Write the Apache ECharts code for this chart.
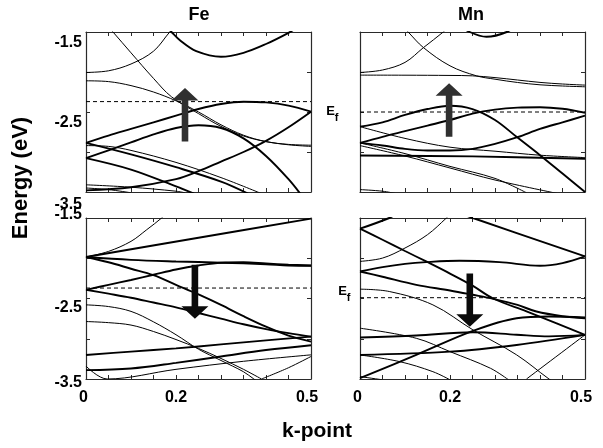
<!DOCTYPE html>
<html><head><meta charset="utf-8">
<script src="https://cdn.jsdelivr.net/npm/echarts@6/dist/echarts.min.js"></script>
<style>html,body{margin:0;padding:0;background:#fff}#c{width:603px;height:448px}</style>
</head><body><div id="c"></div>
<script>
// ---------------- data ----------------
const panelTitles = ['Fe', 'Mn'];
const xTickLabels = [0, 0.2, 0.5];
const yTickLabels = [-1.5, -2.5, -3.5];
const fermiLevels = [-2.37, -2.50, -2.37, -2.49];           // Fe up, Mn up, Fe down, Mn down
const spinArrows = [[0.22, -2.87, -2.20], [0.198, -2.81, -2.14], [0.242, -2.08, -2.75], [0.244, -2.19, -2.85]]; // k, tail E, tip E

const feUpBands = [
  [[0.05,-1.44],[0.06,-1.5],[0.1,-1.76],[0.15,-2.08],[0.19,-2.31],[0.25,-2.52],[0.3,-2.68],[0.35,-2.80],[0.4,-2.87],[0.45,-2.91],[0.5,-2.93]],
  [[0,-2.11],[0.05,-2.12],[0.1,-2.17],[0.15,-2.25],[0.2,-2.36],[0.25,-2.5],[0.3,-2.66],[0.35,-2.79],[0.4,-2.87],[0.45,-2.905],[0.5,-2.915]],
  [[0,-2.006],[0.05,-1.985],[0.1,-1.9],[0.15,-1.74],[0.186,-1.5],[0.2,-1.42]],
  [[0.17,-1.38],[0.19,-1.5],[0.21,-1.61],[0.245,-1.74],[0.3,-1.81],[0.35,-1.76],[0.4,-1.65],[0.45,-1.51],[0.47,-1.44]],
  [[0,-2.886],[0.05,-2.795],[0.1,-2.712],[0.15,-2.629],[0.2,-2.546],[0.25,-2.463],[0.3,-2.40],[0.35,-2.371],[0.4,-2.38],[0.45,-2.42],[0.5,-2.496]],
  [[0,-3.077],[0.05,-2.98],[0.1,-2.88],[0.15,-2.78],[0.2,-2.70],[0.25,-2.665],[0.3,-2.70],[0.35,-2.83],[0.4,-3.05],[0.45,-3.34],[0.48,-3.55]],
  [[0,-2.886],[0.1,-3.03],[0.2,-3.19],[0.3,-3.37],[0.36,-3.52]],
  [[0,-2.92],[0.05,-2.93],[0.1,-2.98],[0.2,-3.13],[0.3,-3.32],[0.39,-3.52]],
  [[0,-3.077],[0.1,-3.22],[0.2,-3.43],[0.24,-3.52]],
  [[0,-3.48],[0.1,-3.44],[0.2,-3.34],[0.25,-3.24],[0.3,-3.12],[0.35,-3.0],[0.4,-2.86],[0.45,-2.69],[0.5,-2.496]],
  [[0,-3.41],[0.1,-3.44],[0.2,-3.49],[0.22,-3.51]],
  [[0,-3.45],[0.05,-3.47],[0.1,-3.51]]
];
const feUpHeavy = [0,0,0,1,1,1,1,0,1,1,0,0];

const mnUpBands = [
  [[0.09,-1.4],[0.107,-1.5],[0.141,-1.695],[0.2,-1.923],[0.259,-2.048],[0.3,-2.09],[0.35,-2.131],[0.4,-2.16],[0.45,-2.175],[0.5,-2.185]],
  [[0,-2.006],[0.05,-1.975],[0.1,-1.88],[0.141,-1.695],[0.185,-1.5],[0.2,-1.42]],
  [[0,-2.039],[0.1,-2.04],[0.2,-2.043],[0.25,-2.048],[0.3,-2.07],[0.35,-2.1],[0.4,-2.13],[0.45,-2.15],[0.5,-2.164]],
  [[0.21,-1.38],[0.244,-1.5],[0.281,-1.56],[0.326,-1.5],[0.35,-1.4]],
  [[0,-2.683],[0.05,-2.629],[0.1,-2.537],[0.15,-2.463],[0.2,-2.421],[0.25,-2.463],[0.3,-2.6],[0.35,-2.82],[0.4,-3.04],[0.45,-3.27],[0.5,-3.5]],
  [[0,-2.886],[0.05,-2.81],[0.1,-2.74],[0.15,-2.67],[0.2,-2.6],[0.25,-2.52],[0.3,-2.47],[0.35,-2.445],[0.4,-2.44],[0.45,-2.46],[0.5,-2.51]],
  [[0,-2.886],[0.05,-2.919],[0.1,-2.961],[0.15,-2.981],[0.2,-2.981],[0.25,-2.961],[0.3,-2.898],[0.35,-2.815],[0.4,-2.712],[0.45,-2.629],[0.5,-2.546]],
  [[0,-2.683],[0.1,-2.83],[0.2,-2.94],[0.3,-2.99],[0.4,-3.04],[0.5,-3.07]],
  [[0,-3.044],[0.25,-3.055],[0.5,-3.085]],
  [[0,-2.886],[0.1,-3.02],[0.2,-3.18],[0.3,-3.33],[0.37,-3.51]],
  [[0,-2.92],[0.1,-3.05],[0.2,-3.2],[0.3,-3.35],[0.44,-3.52]],
  [[0,-3.47],[0.05,-3.49],[0.08,-3.52]]
];
const mnUpHeavy = [0,0,0,1,1,1,1,0,1,0,0,0];

const feDownBands = [
  [[0,-1.985],[0.25,-1.745],[0.5,-1.508]],
  [[0,-1.985],[0.05,-1.915],[0.1,-1.79],[0.135,-1.645],[0.168,-1.5],[0.19,-1.38]],
  [[0,-1.985],[0.1,-2.02],[0.2,-2.04],[0.3,-2.055],[0.4,-2.075],[0.45,-2.09],[0.5,-2.093]],
  [[0,-1.985],[0.05,-2.05],[0.1,-2.13],[0.15,-2.21],[0.2,-2.33],[0.25,-2.45],[0.3,-2.58],[0.35,-2.72],[0.4,-2.85],[0.45,-2.96],[0.5,-3.035]],
  [[0,-2.392],[0.05,-2.33],[0.1,-2.27],[0.15,-2.205],[0.2,-2.14],[0.25,-2.09],[0.3,-2.055],[0.35,-2.05],[0.4,-2.065],[0.45,-2.08],[0.5,-2.09]],
  [[0,-2.392],[0.05,-2.44],[0.1,-2.49],[0.15,-2.55],[0.2,-2.61],[0.25,-2.68],[0.3,-2.75],[0.35,-2.82],[0.4,-2.88],[0.45,-2.93],[0.5,-2.973]],
  [[0,-2.579],[0.05,-2.6],[0.1,-2.66],[0.15,-2.79],[0.2,-2.95],[0.25,-3.13],[0.3,-3.27],[0.35,-3.41],[0.373,-3.5],[0.4,-3.6]],
  [[0,-2.786],[0.05,-2.8],[0.1,-2.83],[0.15,-2.91],[0.2,-3.01],[0.25,-3.12],[0.3,-3.245],[0.35,-3.38],[0.39,-3.5]],
  [[0.39,-3.5],[0.45,-3.36],[0.5,-3.22]],
  [[0,-3.201],[0.1,-3.16],[0.2,-3.12],[0.3,-3.07],[0.4,-3.02],[0.5,-2.973]],
  [[0,-3.39],[0.1,-3.37],[0.2,-3.3],[0.3,-3.22],[0.4,-3.14],[0.5,-3.08]],
  [[0,-3.34],[0.047,-3.5],[0.2,-3.38],[0.35,-3.28],[0.5,-3.2]]
];
const feDownHeavy = [1,0,1,1,1,1,0,0,0,1,1,0];

const mnDownBands = [
  [[0,-1.633],[0.065,-1.5],[0.08,-1.45]],
  [[0,-1.633],[0.05,-1.77],[0.1,-1.91],[0.147,-2.04],[0.2,-2.19],[0.25,-2.34],[0.296,-2.5],[0.37,-2.66],[0.437,-2.81],[0.5,-2.952]],
  [[0.2,-1.4],[0.251,-1.5],[0.5,-1.977]],
  [[0,-2.039],[0.05,-1.998],[0.1,-1.873],[0.15,-1.707],[0.192,-1.5],[0.21,-1.4]],
  [[0,-2.164],[0.05,-2.11],[0.1,-2.07],[0.147,-2.048],[0.221,-2.031],[0.31,-2.048],[0.4,-2.093],[0.45,-2.06],[0.5,-1.977]],
  [[0,-2.164],[0.05,-2.23],[0.125,-2.33],[0.2,-2.4],[0.251,-2.454],[0.296,-2.504],[0.35,-2.58],[0.392,-2.662],[0.45,-2.72],[0.5,-2.745]],
  [[0,-2.384],[0.065,-2.413],[0.162,-2.579],[0.251,-2.89],[0.348,-3.2],[0.42,-3.5],[0.44,-3.57]],
  [[0,-3.49],[0.125,-3.2],[0.251,-2.902],[0.348,-2.745],[0.42,-2.724],[0.5,-2.736]],
  [[0,-2.985],[0.125,-2.96],[0.251,-2.919],[0.348,-2.95],[0.42,-2.97],[0.5,-2.952]],
  [[0,-3.201],[0.088,-3.284],[0.162,-3.409],[0.2,-3.51]],
  [[0,-3.201],[0.2,-3.16],[0.348,-3.077],[0.5,-2.952]],
  [[0.37,-3.5],[0.5,-2.952]],
  [[0,-2.869],[0.125,-2.994],[0.2,-3.16],[0.29,-3.367],[0.33,-3.51]],
  [[0,-3.47],[0.05,-3.51]]
];
const mnDownHeavy = [1,1,1,0,1,1,0,1,1,0,1,0,0,0];

// ---------------- layout / style ----------------
const panels = [
  {bands: feUpBands, heavy: feUpHeavy},
  {bands: mnUpBands, heavy: mnUpHeavy},
  {bands: feDownBands, heavy: feDownHeavy},
  {bands: mnDownBands, heavy: mnDownHeavy}
];
const FONT = 'Liberation Sans, Arial, Helvetica, sans-serif';
const frame = '#2a2a2a';
const grids = [
  {left: 86, top: 32, width: 225, height: 160},
  {left: 360, top: 32, width: 225, height: 160},
  {left: 86, top: 218, width: 225, height: 161},
  {left: 360, top: 218, width: 225, height: 161}
];
const yPads = [
  [[22,0,0,0],[22,0,0,0],[26,0,0,0]],
  null,
  [[0,0,7,0],[18,0,0,0],[8,0,0,0]],
  null
];
const xPads = [[0,5,0,0],[0,0,0,0],[0,8,0,0]];
const labelFont = {fontFamily: FONT, fontSize: 16, fontWeight: 'bold', color: '#000'};

const xAxes = [], yAxes = [];
grids.forEach((g, i) => {
  const showX = i >= 2;
  xAxes.push({
    type: 'value', gridIndex: i, min: 0, max: 0.5, interval: 0.05, position: 'bottom',
    axisLine: {onZero: false, lineStyle: {color: frame, width: 1.2}},
    axisTick: {inside: true, length: 4, lineStyle: {color: frame, width: 1}},
    splitLine: {show: false},
    axisLabel: {
      show: showX, margin: 11,
      formatter: v => { const r = Math.round(v * 100) / 100; const k = xTickLabels.indexOf(r); return k < 0 ? '' : '{x' + k + '|' + r + '}'; },
      rich: {x0: Object.assign({padding: xPads[0]}, labelFont), x1: Object.assign({padding: xPads[1]}, labelFont), x2: Object.assign({padding: xPads[2]}, labelFont)}
    }
  });
  xAxes.push({
    type: 'value', gridIndex: i, min: 0, max: 0.5, interval: 0.05, position: 'top',
    axisLine: {onZero: false, lineStyle: {color: frame, width: 1.2}},
    axisTick: {inside: true, length: 4, lineStyle: {color: frame, width: 1}},
    splitLine: {show: false}, axisLabel: {show: false}
  });
  const pads = yPads[i];
  yAxes.push({
    type: 'value', gridIndex: i, min: -3.5, max: -1.5, interval: 0.5, position: 'left',
    axisLine: {onZero: false, lineStyle: {color: frame, width: 1.2}},
    axisTick: {inside: true, length: 4, lineStyle: {color: frame, width: 1}},
    splitLine: {show: false},
    axisLabel: pads ? {
      show: true, margin: 4,
      formatter: v => { const r = Math.round(v * 10) / 10; const k = yTickLabels.indexOf(r); return k < 0 ? '' : '{y' + k + '|' + r.toFixed(1) + '}'; },
      rich: {y0: Object.assign({padding: pads[0]}, labelFont), y1: Object.assign({padding: pads[1]}, labelFont), y2: Object.assign({padding: pads[2]}, labelFont)}
    } : {show: false}
  });
  yAxes.push({
    type: 'value', gridIndex: i, min: -3.5, max: -1.5, interval: 0.5, position: 'right',
    axisLine: {onZero: false, lineStyle: {color: frame, width: 1.2}},
    axisTick: {inside: true, length: 4, lineStyle: {color: frame, width: 1}},
    splitLine: {show: false}, axisLabel: {show: false}
  });
});

const series = [];
panels.forEach((p, i) => {
  p.bands.forEach((band, j) => {
    series.push({
      type: 'line', xAxisIndex: 2 * i, yAxisIndex: 2 * i, data: band,
      showSymbol: false, symbol: 'none', smooth: 0.35, clip: true, silent: true,
      lineStyle: {color: '#000', width: p.heavy[j] ? 1.9 : 1.0}
    });
  });
  series.push({
    type: 'line', xAxisIndex: 2 * i, yAxisIndex: 2 * i,
    data: [[0, fermiLevels[i]], [0.5, fermiLevels[i]]],
    showSymbol: false, symbol: 'none', silent: true,
    lineStyle: {color: '#000', width: 1, type: [4, 3]}
  });
  const arrowColor = i < 2 ? '#303030' : '#0a0a0a';
  series.push({
    type: 'custom', xAxisIndex: 2 * i, yAxisIndex: 2 * i, clip: false, silent: true,
    data: [spinArrows[i]], encode: {x: 0, y: [1, 2]}, z: 5,
    renderItem: (params, api) => {
      const x = api.value(0), y0 = api.value(1), y1 = api.value(2);
      const a = api.coord([x, y0]), b = api.coord([x, y1]);
      const dir = b[1] > a[1] ? 1 : -1;
      const hl = 12.5, hw = 13.5, sw = 3.3;
      const base = b[1] - dir * hl;
      return {
        type: 'polygon',
        shape: {points: [[a[0] - sw, a[1]], [a[0] + sw, a[1]], [a[0] + sw, base], [a[0] + hw, base], [b[0], b[1]], [a[0] - hw, base], [a[0] - sw, base]]},
        style: {fill: arrowColor}
      };
    }
  });
});

const efRich = {
  e: {fontFamily: FONT, fontSize: 13, fontWeight: 'bold', fill: '#000', verticalAlign: 'top'},
  f: {fontFamily: FONT, fontSize: 11, fontWeight: 'bold', fill: '#000', verticalAlign: 'top', padding: [7, 0, 0, 0]}
};

const chart = echarts.init(document.getElementById('c'), null, {renderer: 'canvas'});
chart.setOption({
  animation: false,
  backgroundColor: '#fff',
  grid: grids,
  xAxis: xAxes,
  yAxis: yAxes,
  series: series,
  graphic: [
    {type: 'text', x: 199, y: 15, style: {text: panelTitles[0], fontFamily: FONT, fontSize: 18, fontWeight: 'bold', fill: '#000', align: 'center', verticalAlign: 'middle'}},
    {type: 'text', x: 471, y: 15, style: {text: panelTitles[1], fontFamily: FONT, fontSize: 18, fontWeight: 'bold', fill: '#000', align: 'center', verticalAlign: 'middle'}},
    {type: 'text', x: 317, y: 431, style: {text: 'k-point', fontFamily: FONT, fontSize: 21, fontWeight: 'bold', fill: '#000', align: 'center', verticalAlign: 'middle'}},
    {type: 'text', x: 21, y: 178, rotation: Math.PI / 2, style: {text: 'Energy (eV)', fontFamily: FONT, fontSize: 22, fontWeight: 'bold', fill: '#000', align: 'center', verticalAlign: 'middle'}},
    {type: 'text', x: 338.5, y: 105, style: {text: '{e|E}{f|f}', rich: efRich, align: 'right', verticalAlign: 'top'}},
    {type: 'text', x: 350.5, y: 285, style: {text: '{e|E}{f|f}', rich: efRich, align: 'right', verticalAlign: 'top'}}
  ]
});
</script>
</body></html>
